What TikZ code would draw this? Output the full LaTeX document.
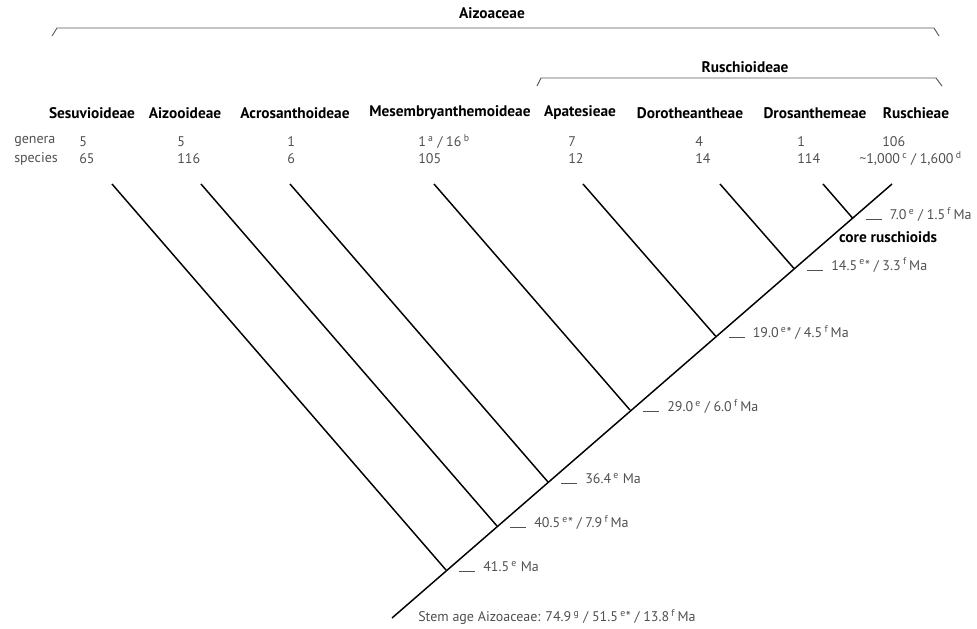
\documentclass[tikz,border=0pt]{standalone}
\usepackage{fontspec}
\setmainfont{PT Sans}
\usepackage{tikz}

\definecolor{labgray}{HTML}{505050}
\definecolor{bragray}{HTML}{5A5A5A}
\newcommand{\sups}[1]{\,\textsuperscript{#1}}
\newcommand{\agetick}{\rule[-0.3pt]{12pt}{0.5pt}\hspace{6pt}}

\begin{document}
\begin{tikzpicture}[x=0.75pt,y=-0.75pt]
  \tikzset{
    clade/.style={font=\bfseries\fontsize{11.5}{13}\selectfont, inner sep=0pt},
    val/.style={font=\fontsize{10.5}{12}\selectfont, text=labgray, inner sep=0pt, anchor=west},
    age/.style={val, anchor=base west},
    branch/.style={line width=1.1pt},
    bracket/.style={draw=bragray, line width=0.7pt}
  }
  \useasboundingbox (0,0) rectangle (977,628);

  \node[clade] (aiz) at (492,13) {Aizoaceae};
  \draw[bracket] (52,36) -- (57,28) -- (934,28) -- (939,36);
  \node[clade] (rus) at (745,67) {Ruschioideae};
  \draw[bracket] (537,86) -- (541,78) -- (936,78) -- (942,86);

  \node[clade] (Ses) at (92,113) {Sesuvioideae};
  \node[clade] (Aiz) at (185,113) {Aizooideae};
  \node[clade] (Acr) at (295,113) {Acrosanthoideae};
  \node[clade] (Mes) at (450,113) {Mesembryanthemoideae};
  \node[clade] (Apa) at (580,113) {Apatesieae};
  \node[clade] (Dor) at (690,113) {Dorotheantheae};
  \node[clade] (Dro) at (815,113) {Drosanthemeae};
  \node[clade] (Rus) at (916,113) {Ruschieae};

  \node[val] (gen) at (14,141.5) {genera};
  \node[val] (spe) at (14,158.5) {species};
  \node[val] at (79,141.5) {5};
  \node[val] at (79,158.5) {65};
  \node[val] at (177,141.5) {5};
  \node[val] at (177,158.5) {116};
  \node[val] at (287,141.5) {1};
  \node[val] at (287,158.5) {6};
  \node[val] at (418,141.5) {1\sups{a} / 16\sups{b}};
  \node[val] at (418,158.5) {105};
  \node[val] at (568,141.5) {7};
  \node[val] at (568,158.5) {12};
  \node[val] at (695,141.5) {4};
  \node[val] at (695,158.5) {14};
  \node[val] at (797,141.5) {1};
  \node[val] at (797,158.5) {114};
  \node[val] at (882,141.5) {106};
  \node[val] at (859,158.5) {\textasciitilde 1,000\sups{c} / 1,600\sups{d}};

  \coordinate (tSes) at (112,184);
  \coordinate (tAiz) at (201,184);
  \coordinate (tAcr) at (290,184);
  \coordinate (tMes) at (434,184);
  \coordinate (tApa) at (583,184);
  \coordinate (tDor) at (720,184);
  \coordinate (tDro) at (823,184);
  \coordinate (tRus) at (892,184);
  \coordinate (stem) at (392,618);
  \coordinate (n415) at (446,570);
  \coordinate (n405) at (497,526);
  \coordinate (n364) at (548,482);
  \coordinate (n290) at (630,410);
  \coordinate (n190) at (715.5,336);
  \coordinate (n145) at (794,268.5);
  \coordinate (n70) at (852.5,218);

  \draw[branch] (stem) -- (tRus);
  \draw[branch] (tSes) -- (n415);
  \draw[branch] (tAiz) -- (n405);
  \draw[branch] (tAcr) -- (n364);
  \draw[branch] (tMes) -- (n290);
  \draw[branch] (tApa) -- (n190);
  \draw[branch] (tDor) -- (n145);
  \draw[branch] (tDro) -- (n70);

  \node[age] (l70) at ([shift={(13,1.6)}]n70) {\agetick 7.0\sups{e} / 1.5\sups{f}\,Ma};
  \node[clade] (core) at (888,237) {core ruschioids};
  \node[age] (l145) at ([shift={(13,1.6)}]n145) {\agetick 14.5\sups{e}*\ / 3.3\sups{f}\,Ma};
  \node[age] (l190) at ([shift={(13,1.6)}]n190) {\agetick 19.0\sups{e}*\ / 4.5\sups{f}\,Ma};
  \node[age] (l290) at ([shift={(13,1.6)}]n290) {\agetick 29.0\sups{e} / 6.0\sups{f}\,Ma};
  \node[age] (l364) at ([shift={(13,1.6)}]n364) {\agetick 36.4\sups{e} Ma};
  \node[age] (l405) at ([shift={(13,1.6)}]n405) {\agetick 40.5\sups{e}*\ / 7.9\sups{f}\,Ma};
  \node[age] (l415) at ([shift={(13,1.6)}]n415) {\agetick 41.5\sups{e} Ma};
  \node[val] (lstem) at ([shift={(26,-1)}]stem) {Stem age Aizoaceae: 74.9\sups{g} / 51.5\sups{e}*\ / 13.8\sups{f}\,Ma};
\end{tikzpicture}
\end{document}
